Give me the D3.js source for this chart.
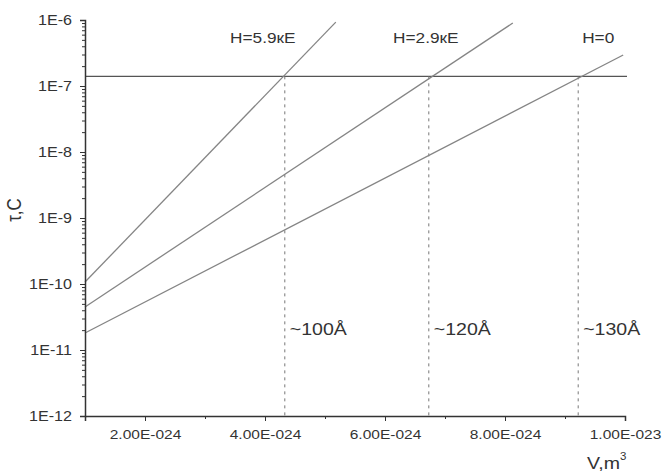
<!DOCTYPE html>
<html>
<head>
<meta charset="utf-8">
<script src="https://cdn.jsdelivr.net/npm/d3@7/dist/d3.min.js"></script>
<style>
  html, body { margin: 0; padding: 0; background: #fff; }
  svg { display: block; }
  text { font-family: "Liberation Sans", Arial, sans-serif; fill: #333; }
</style>
</head>
<body>
<svg id="chart" width="665" height="473"></svg>
<script>
// Relaxation time vs particle volume for three field values
const seriesNames = ["H=5.9кЕ", "H=2.9кЕ", "H=0"];
const volStart = [1e-24, 1e-24, 1e-24];
const volEnd = [5.18e-24, 8.13e-24, 9.97e-24];
const tauStart = [1.07e-10, 4.49e-11, 1.81e-11];
const tauEnd = [9.3e-7, 9.0e-7, 2.95e-7];

// Measurement time threshold and the critical volumes where each line crosses it
const tauThreshold = 1.4e-7;
const critVolume = [4.33e-24, 6.73e-24, 9.22e-24];
const sizeLabels = ["~100Å", "~120Å", "~130Å"];

const xTicks = [2e-24, 4e-24, 6e-24, 8e-24, 1e-23];
const xMinorTicks = [3e-24, 5e-24, 7e-24, 9e-24];
const yTicks = [1e-12, 1e-11, 1e-10, 1e-9, 1e-8, 1e-7, 1e-6];

const W = 665, H = 473;
const margin = { left: 85, right: 40, top: 20, bottom: 57 };
const SX = 1.15; // horizontal stretch of the lettering

const svg = d3.select("#chart");

const x = d3.scaleLinear().domain([1e-24, 1e-23]).range([margin.left, W - margin.right]);
const y = d3.scaleLog().domain([1e-12, 1e-6]).range([H - margin.bottom, margin.top]);

function fmtX(v) {
  const e = Math.floor(Math.log10(v) + 1e-9);
  const m = v / Math.pow(10, e);
  const es = String(Math.abs(e)).padStart(3, "0");
  return m.toFixed(2) + "E" + (e < 0 ? "-" : "+") + es;
}
function fmtY(v) {
  return "1E" + Math.round(Math.log10(v));
}

// minor ticks for the log axis
const yMinor = [];
yTicks.slice(0, -1).forEach(t => { for (let k = 2; k <= 9; k++) yMinor.push(t * k); });

// threshold line
svg.append("line")
  .attr("x1", x(1e-24)).attr("x2", x(1e-23) + 2)
  .attr("y1", y(tauThreshold)).attr("y2", y(tauThreshold))
  .attr("stroke", "#555").attr("stroke-width", 1.2);

// dotted verticals at critical volumes
svg.selectAll(".crit").data(critVolume).enter().append("line")
  .attr("class", "crit")
  .attr("x1", d => x(d)).attr("x2", d => x(d))
  .attr("y1", y(tauThreshold)).attr("y2", y(1e-12))
  .attr("stroke", "#777").attr("stroke-width", 1)
  .attr("stroke-dasharray", "3,4");

// the three relaxation lines
const line = d3.line().x(d => x(d[0])).y(d => y(d[1]));
seriesNames.forEach((name, i) => {
  svg.append("path")
    .datum([[volStart[i], tauStart[i]], [volEnd[i], tauEnd[i]]])
    .attr("d", line)
    .attr("fill", "none")
    .attr("stroke", "#858585")
    .attr("stroke-width", 1.3);
});

// axes
const xAxis = svg.append("g")
  .attr("transform", `translate(0,${y(1e-12)})`)
  .call(d3.axisBottom(x).tickValues(xTicks).tickFormat(fmtX).tickSize(5).tickPadding(8));
svg.append("g")
  .attr("transform", `translate(0,${y(1e-12)})`)
  .call(d3.axisBottom(x).tickValues(xMinorTicks).tickFormat("").tickSize(3))
  .call(g => g.select(".domain").remove());

const yAxis = svg.append("g")
  .attr("transform", `translate(${x(1e-24)},0)`)
  .call(d3.axisLeft(y).tickValues(yTicks).tickFormat(fmtY).tickSize(5).tickPadding(8));
svg.append("g")
  .attr("transform", `translate(${x(1e-24)},0)`)
  .call(d3.axisLeft(y).tickValues(yMinor).tickFormat("").tickSize(3))
  .call(g => g.select(".domain").remove());

svg.selectAll(".domain").attr("stroke", "#333").attr("stroke-width", 1.5);
svg.selectAll(".tick line").attr("stroke", "#333").attr("stroke-width", 1);

xAxis.selectAll("text")
  .attr("font-size", 13.5)
  .attr("fill", "#333")
  .attr("transform", `scale(${SX},1)`);
yAxis.selectAll("text")
  .attr("font-size", 14)
  .attr("fill", "#333")
  .each(function () {
    const t = d3.select(this);
    t.attr("x", +t.attr("x") / SX).attr("transform", `scale(${SX},1)`);
  });

// stretched text helper
function label(px, py, str, size, anchor) {
  return svg.append("text")
    .attr("transform", `translate(${px},${py}) scale(${SX},1)`)
    .attr("text-anchor", anchor || "start")
    .attr("font-size", size)
    .text(str);
}

// field labels above the lines
const fieldDx = [-22, -3, 20];
seriesNames.forEach((name, i) => {
  label(x(critVolume[i]) + fieldDx[i], 43, name, 15, "middle");
});

// particle size labels
sizeLabels.forEach((s, i) => {
  label(x(critVolume[i]) + 5, y(1e-12) - 81, s, 17, "start");
});

// axis titles
const vt = svg.append("text")
  .attr("transform", `translate(${x(1e-23) - 38},469) scale(${SX},1)`)
  .attr("font-size", 17);
vt.append("tspan").text("V,m");
vt.append("tspan").attr("font-size", 10).attr("dy", -9).text("3");

svg.append("text")
  .attr("transform", `translate(21,210) rotate(-90) scale(1,${SX})`)
  .attr("text-anchor", "middle")
  .attr("font-size", 17)
  .text("τ,C");
</script>
</body>
</html>
